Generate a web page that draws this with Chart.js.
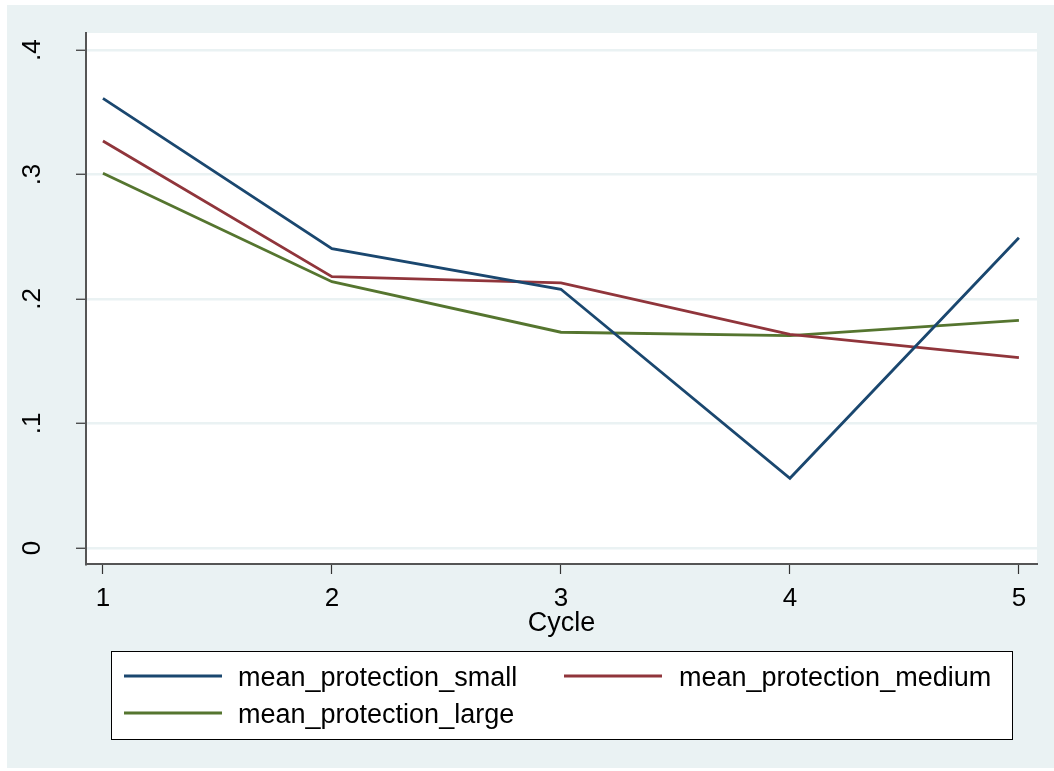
<!DOCTYPE html>
<html>
<head>
<meta charset="utf-8">
<script src="https://cdn.jsdelivr.net/npm/chart.js@4.4.1/dist/chart.umd.min.js"></script>
<style>
  html, body { margin: 0; padding: 0; background: #ffffff; }
  #wrap { width: 1054px; height: 771px; position: relative; }
</style>
</head>
<body>
<div id="wrap"><canvas id="c" width="1054" height="771"></canvas></div>
<script>
// ---- data ----
const cycles = [1, 2, 3, 4, 5];
const seriesNames = ['mean_protection_small', 'mean_protection_medium', 'mean_protection_large'];
const smallValues  = [0.3612, 0.2404, 0.2078, 0.0560, 0.2492];
const mediumValues = [0.3269, 0.2179, 0.2129, 0.1716, 0.1529];
const largeValues  = [0.3010, 0.2139, 0.1733, 0.1705, 0.1829];
const xTickValues = [1, 2, 3, 4, 5];
const yTickValues = [0, 0.1, 0.2, 0.3, 0.4];
const yTickLabels = ['0', '.1', '.2', '.3', '.4'];
const xTitle = 'Cycle';

// ---- style ----
const BG = '#eaf2f3';
const COLORS = ['#1a476f', '#90353b', '#55752f'];
const FONT = 'Liberation Sans, Arial, Helvetica, sans-serif';
const AXIS_COLOR = '#555555';

const toPts = vals => cycles.map((c, i) => ({ x: c, y: vals[i] }));

const bgPlugin = {
  id: 'bgPlugin',
  beforeDraw(chart) {
    const ctx = chart.ctx;
    const a = chart.chartArea;
    ctx.save();
    ctx.fillStyle = '#ffffff';
    ctx.fillRect(0, 0, chart.width, chart.height);
    ctx.fillStyle = BG;
    ctx.fillRect(7, 5, chart.width - 7, chart.height - 8);
    ctx.fillStyle = '#ffffff';
    ctx.fillRect(a.left, a.top, a.right - a.left, a.bottom - a.top);
    ctx.restore();
  }
};

const legendPlugin = {
  id: 'boxLegend',
  afterDraw(chart) {
    const ctx = chart.ctx;
    const box = { l: 111.5, t: 651.5, r: 1012.5, b: 739.5 };
    ctx.save();
    ctx.fillStyle = '#ffffff';
    ctx.fillRect(box.l, box.t, box.r - box.l, box.b - box.t);
    ctx.strokeStyle = '#000000';
    ctx.lineWidth = 1;
    ctx.strokeRect(box.l, box.t, box.r - box.l, box.b - box.t);
    const slots = [
      { x: 124, y: 676, tx: 238, ty: 686 },
      { x: 564, y: 676, tx: 679, ty: 686 },
      { x: 124, y: 713, tx: 238, ty: 723 }
    ];
    ctx.font = '27px ' + FONT;
    ctx.textBaseline = 'alphabetic';
    ctx.textAlign = 'left';
    chart.data.datasets.forEach((ds, i) => {
      const s = slots[i];
      ctx.strokeStyle = ds.borderColor;
      ctx.lineWidth = 2.8;
      ctx.beginPath();
      ctx.moveTo(s.x, s.y);
      ctx.lineTo(s.x + 98, s.y);
      ctx.stroke();
      ctx.fillStyle = '#000000';
      ctx.fillText(ds.label, s.tx, s.ty);
    });
    ctx.restore();
  }
};

new Chart(document.getElementById('c'), {
  type: 'line',
  data: {
    datasets: [
      { label: seriesNames[0], data: toPts(smallValues),  borderColor: COLORS[0], backgroundColor: COLORS[0] },
      { label: seriesNames[1], data: toPts(mediumValues), borderColor: COLORS[1], backgroundColor: COLORS[1] },
      { label: seriesNames[2], data: toPts(largeValues),  borderColor: COLORS[2], backgroundColor: COLORS[2] }
    ]
  },
  options: {
    responsive: false,
    animation: false,
    devicePixelRatio: 1,
    layout: { padding: { top: 33, right: 17, left: 0, bottom: 127 } },
    elements: {
      line: { borderWidth: 2.8, tension: 0 },
      point: { radius: 0, hoverRadius: 0 }
    },
    plugins: {
      legend: { display: false },
      tooltip: { enabled: false }
    },
    scales: {
      x: {
        type: 'linear',
        min: 0.926,
        max: 5.079,
        afterBuildTicks: s => { s.ticks = xTickValues.map(v => ({ value: v })); },
        afterFit: s => { s.height = 80; s.paddingLeft = 0; s.paddingRight = 0; },
        grid: { drawOnChartArea: false, tickLength: 10, tickColor: '#333333', tickWidth: 1.2 },
        border: { color: AXIS_COLOR, width: 2 },
        ticks: {
          color: '#000000', font: { family: FONT, size: 26 }, padding: 9,
          maxRotation: 0, autoSkip: false,
          callback: v => String(v)
        },
        title: {
          display: true, text: xTitle, color: '#000000',
          font: { family: FONT, size: 27 }, padding: { top: 0, bottom: 4 }
        }
      },
      y: {
        type: 'linear',
        min: -0.0129,
        max: 0.4137,
        afterBuildTicks: s => { s.ticks = yTickValues.map(v => ({ value: v })); },
        afterFit: s => { s.width = 86; s.paddingTop = 0; s.paddingBottom = 0; },
        grid: { color: BG, lineWidth: 2.5, tickLength: 10, tickColor: '#333333', tickWidth: 1.2 },
        border: { color: AXIS_COLOR, width: 2 },
        ticks: {
          color: '#000000', font: { family: FONT, size: 26 }, padding: 32,
          minRotation: 90, maxRotation: 90, crossAlign: 'center', autoSkip: false,
          callback: (v) => {
            const i = yTickValues.findIndex(t => Math.abs(t - v) < 1e-9);
            return i >= 0 ? yTickLabels[i] : '';
          }
        }
      }
    }
  },
  plugins: [bgPlugin, legendPlugin]
});
</script>
</body>
</html>
